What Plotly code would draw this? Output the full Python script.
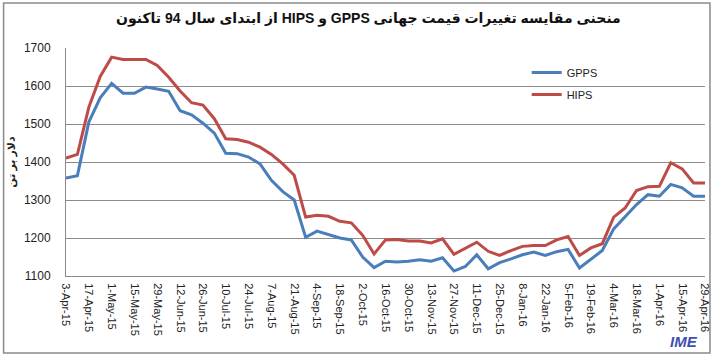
import pandas as pd
import plotly.graph_objects as go

# Weekly dates (categories)
dates = [d.strftime("%-d-%b-%y") for d in pd.date_range("2015-04-03", "2016-04-29", freq="7D")]

gpps = [1358, 1364, 1505, 1569, 1607, 1581, 1581, 1597, 1592, 1586,
        1535, 1524, 1502, 1476, 1423, 1422, 1413, 1395, 1352, 1322,
        1300, 1202, 1218, 1208, 1200, 1195, 1150, 1122, 1139, 1137,
        1139, 1143, 1139, 1148, 1113, 1125, 1156, 1119, 1135, 1145,
        1156, 1163, 1154, 1164, 1170, 1121, 1145, 1167, 1224, 1255,
        1288, 1314, 1310, 1341, 1332, 1310, 1310]

hips = [1410, 1420, 1544, 1625, 1676, 1670, 1670, 1670, 1654, 1623,
        1587, 1556, 1550, 1514, 1461, 1459, 1452, 1439, 1420, 1395,
        1365, 1255, 1260, 1257, 1244, 1240, 1207, 1158, 1195, 1196,
        1192, 1192, 1187, 1198, 1157, 1174, 1189, 1165, 1154, 1167,
        1178, 1180, 1180, 1195, 1204, 1154, 1174, 1185, 1255, 1279,
        1325, 1335, 1336, 1398, 1382, 1345, 1345]

tick_labels = dates[::2]
y_ticks = [1100, 1200, 1300, 1400, 1500, 1600, 1700]

title_text = "منحنی مقایسه تغییرات قیمت جهانی GPPS و HIPS از ابتدای سال 94 تاکنون"
y_title = "دلار بر تن"

RLE, PDF = "\u202b", "\u202c"
FONT = "Liberation Sans, Arial, DejaVu Sans, sans-serif"

fig = go.Figure()
fig.add_trace(go.Scatter(x=dates, y=gpps, name="GPPS", mode="lines",
                         line=dict(color="#4A7EBB", width=3), legendgroup="g"))
fig.add_trace(go.Scatter(x=dates, y=hips, name="HIPS", mode="lines",
                         line=dict(color="#BE4B48", width=3), legendgroup="h"))

W, H = 720, 357
L, R, T, B = 66, 9, 48, 81
pw, ph = W - L - R, H - T - B

def px_x(x):
    return (x - L) / pw

def px_y(y):
    return (H - B - y) / ph

fig.update_layout(
    width=W, height=H,
    margin=dict(l=L, r=R, t=T, b=B, pad=0),
    paper_bgcolor="white", plot_bgcolor="white",
    font=dict(family=FONT, size=11, color="#222"),
    showlegend=True,
    legend=dict(x=px_x(531), y=px_y(58), xanchor="left", yanchor="top",
                bgcolor="rgba(0,0,0,0)", font=dict(size=11, color="#222"),
                traceorder="grouped", tracegroupgap=3),
    annotations=[
        dict(text="<b>" + RLE + title_text + PDF + "</b>", xref="paper", yref="paper",
             x=px_x(371), y=px_y(18), xanchor="center", yanchor="middle",
             showarrow=False, font=dict(size=14, color="#111", family=FONT)),
        dict(text="<b><i>IME</i></b>", xref="paper", yref="paper",
             x=px_x(690), y=px_y(341), xanchor="center", yanchor="middle",
             showarrow=False, font=dict(size=15, color="#3F4FB0", family=FONT)),
    ],
    shapes=[
        dict(type="rect", xref="paper", yref="paper",
             x0=px_x(3), x1=px_x(716), y0=px_y(353), y1=px_y(3),
             line=dict(color="#8a8a8a", width=1.5), fillcolor="rgba(0,0,0,0)",
             layer="below"),
    ],
)

fig.update_xaxes(
    type="category", range=[0, len(dates) - 1],
    tickmode="array", tickvals=tick_labels, ticktext=tick_labels,
    tickangle=90, ticks="", showgrid=False,
    showline=True, linecolor="#8a8a8a", linewidth=1,
    tickfont=dict(size=11, color="#222"), ticklabelstandoff=4,
)
fig.update_yaxes(
    range=[1100, 1700], tickvals=y_ticks, ticks="",
    showgrid=True, gridcolor="#8c8c8c", gridwidth=1,
    showline=True, linecolor="#8a8a8a", linewidth=1, zeroline=False,
    tickfont=dict(size=12, color="#222"), ticklabelstandoff=12,
    title=dict(text="<b>" + RLE + y_title + PDF + "</b>", font=dict(size=11, color="#222"), standoff=6),
)

fig.write_html("out.html")
